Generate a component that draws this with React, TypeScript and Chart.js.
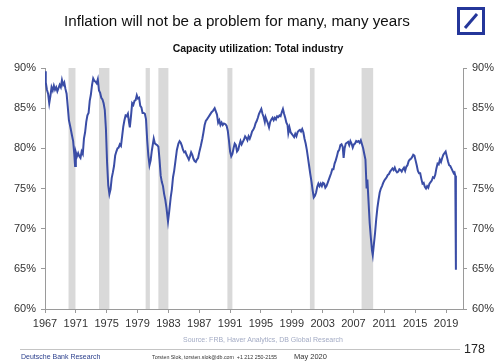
import React, { useEffect, useRef } from "react";
import { Chart, registerables } from "chart.js";

Chart.register(...registerables);

const FONT = '"Liberation Sans", Arial, Helvetica, sans-serif';

// Decimal-year positions and capacity utilization (%)
const dates = [
  1967.0, 1967.1, 1967.25, 1967.4, 1967.55, 1967.7, 1967.85, 1968.0, 1968.15, 1968.3, 1968.45, 1968.6, 1968.75, 1968.9,
  1969.05, 1969.2, 1969.35, 1969.5, 1969.65, 1969.8, 1969.95, 1970.1, 1970.3, 1970.5, 1970.65, 1970.8, 1970.9,
  1971.0, 1971.15, 1971.3, 1971.45, 1971.6, 1971.75, 1971.9, 1972.05, 1972.2, 1972.35, 1972.5, 1972.65, 1972.8, 1972.95,
  1973.1, 1973.25, 1973.4, 1973.55, 1973.7, 1973.85, 1974.0, 1974.15, 1974.3, 1974.45, 1974.6, 1974.75, 1974.9,
  1975.05, 1975.2, 1975.35, 1975.5, 1975.65, 1975.8, 1975.95, 1976.1, 1976.25, 1976.4, 1976.55, 1976.7, 1976.85,
  1977.0, 1977.15, 1977.3, 1977.45, 1977.6, 1977.75, 1977.9, 1978.0, 1978.15, 1978.3, 1978.45, 1978.6, 1978.75, 1978.9,
  1979.05, 1979.2, 1979.35, 1979.5, 1979.65, 1979.8, 1979.95, 1980.1, 1980.25, 1980.4, 1980.55, 1980.7, 1980.85,
  1981.0, 1981.1, 1981.25, 1981.4, 1981.55, 1981.7, 1981.85, 1982.0, 1982.15, 1982.3, 1982.45, 1982.6, 1982.75, 1982.95,
  1983.1, 1983.3, 1983.45, 1983.6, 1983.75, 1983.9, 1984.1, 1984.3, 1984.45, 1984.6, 1984.75, 1984.9,
  1985.05, 1985.2, 1985.35, 1985.5, 1985.65, 1985.8, 1985.95, 1986.1, 1986.25, 1986.4, 1986.55, 1986.7, 1986.85,
  1987.0, 1987.2, 1987.4, 1987.55, 1987.7, 1987.85, 1988.0, 1988.2, 1988.4, 1988.6, 1988.8,
  1989.0, 1989.15, 1989.3, 1989.45, 1989.6, 1989.75, 1989.9, 1990.05, 1990.2, 1990.4, 1990.55, 1990.7, 1990.85,
  1991.0, 1991.15, 1991.3, 1991.45, 1991.6, 1991.75, 1991.9, 1992.05, 1992.2, 1992.35, 1992.5, 1992.65, 1992.8, 1992.95,
  1993.1, 1993.25, 1993.4, 1993.55, 1993.7, 1993.85, 1994.0, 1994.15, 1994.3, 1994.45, 1994.6, 1994.75, 1994.9,
  1995.05, 1995.2, 1995.35, 1995.5, 1995.6, 1995.75, 1995.9, 1996.05, 1996.2, 1996.35, 1996.5, 1996.65, 1996.8, 1996.95,
  1997.1, 1997.25, 1997.4, 1997.55, 1997.7, 1997.85, 1998.0, 1998.15, 1998.3, 1998.45, 1998.55, 1998.7, 1998.85,
  1999.0, 1999.15, 1999.3, 1999.45, 1999.6, 1999.75, 1999.9, 2000.05, 2000.2, 2000.35, 2000.5, 2000.65, 2000.8, 2000.95,
  2001.1, 2001.25, 2001.4, 2001.55, 2001.7, 2001.85, 2002.0, 2002.15, 2002.3, 2002.45, 2002.6, 2002.75, 2002.9,
  2003.05, 2003.2, 2003.35, 2003.5, 2003.65, 2003.8, 2003.95, 2004.1, 2004.25, 2004.4, 2004.55, 2004.7, 2004.85,
  2005.0, 2005.15, 2005.3, 2005.45, 2005.6, 2005.72, 2005.85, 2006.0, 2006.15, 2006.3, 2006.45, 2006.6, 2006.75, 2006.9,
  2007.05, 2007.2, 2007.35, 2007.5, 2007.65, 2007.8, 2007.95, 2008.1, 2008.25, 2008.4, 2008.55, 2008.7, 2008.8, 2008.95,
  2009.1, 2009.25, 2009.4, 2009.5, 2009.65, 2009.8, 2009.95, 2010.1, 2010.25, 2010.4, 2010.55, 2010.7, 2010.85,
  2011.0, 2011.15, 2011.3, 2011.45, 2011.6, 2011.75, 2011.9, 2012.05, 2012.2, 2012.35, 2012.5, 2012.65, 2012.8, 2012.95,
  2013.1, 2013.25, 2013.4, 2013.55, 2013.7, 2013.85, 2014.0, 2014.15, 2014.3, 2014.45, 2014.6, 2014.75, 2014.9,
  2015.05, 2015.2, 2015.35, 2015.5, 2015.65, 2015.8, 2015.95, 2016.1, 2016.25, 2016.4, 2016.55, 2016.7, 2016.85,
  2017.0, 2017.15, 2017.3, 2017.45, 2017.6, 2017.75, 2017.9, 2018.05, 2018.2, 2018.35, 2018.5, 2018.65, 2018.8, 2018.95,
  2019.1, 2019.25, 2019.4, 2019.55, 2019.7, 2019.85, 2020.0, 2020.1, 2020.2, 2020.28,
];

const values = [
  89.6, 88.2, 87.3, 86.8, 85.6, 86.5, 87.6, 87.2, 87.8, 87.3, 87.6, 87.1, 87.5, 87.9,
  87.6, 88.5, 87.9, 88.2, 87.4, 86.8, 85.2, 83.5, 82.6, 81.6, 80.9, 79.2, 77.8,
  79.5, 79.0, 79.4, 79.0, 78.8, 79.6, 79.3, 81.2, 82.0, 83.3, 84.1, 84.4, 85.9, 86.7,
  87.9, 88.7, 88.4, 88.3, 88.1, 88.6, 87.2, 86.9, 86.3, 86.1, 85.6, 84.8, 82.4,
  78.2, 75.4, 74.3, 74.9, 76.3, 77.0, 77.8, 79.1, 79.6, 80.0, 80.1, 80.5, 80.3,
  81.5, 82.7, 83.5, 84.1, 84.0, 84.3, 83.2, 82.6, 84.0, 85.6, 85.4, 85.9, 86.0, 86.6,
  86.2, 86.3, 85.3, 85.1, 84.4, 84.4, 84.3, 83.6, 81.0, 79.1, 77.9, 78.5, 79.7,
  80.6, 81.2, 80.6, 80.5, 80.4, 80.2, 78.6, 76.6, 75.8, 75.3, 74.3, 73.6, 72.6, 70.9,
  72.1, 73.9, 74.9, 76.4, 77.2, 78.3, 79.8, 80.6, 80.9, 80.7, 80.3, 79.8,
  79.5, 79.6, 79.2, 78.9, 78.6, 79.0, 79.5, 79.2, 78.7, 78.4, 78.3, 78.6, 78.8,
  79.5, 80.3, 81.2, 82.0, 82.9, 83.4, 83.6, 83.9, 84.2, 84.5, 84.7,
  85.0, 84.6, 84.2, 83.2, 83.5, 82.9, 83.2, 82.9, 83.1, 83.0, 82.8, 82.2, 81.0,
  79.6, 79.0, 79.3, 80.0, 80.6, 80.4, 79.6, 79.8, 80.4, 80.9, 80.5, 80.8, 81.1, 81.5,
  81.3, 81.0, 81.5, 81.2, 81.6, 82.1, 82.3, 82.6, 83.1, 83.4, 83.8, 84.3, 84.6,
  84.9, 84.3, 83.9, 83.3, 83.9, 83.5, 83.1, 82.6, 83.3, 83.6, 83.8, 83.5, 83.8, 83.6,
  84.0, 83.9, 84.1, 84.0, 84.5, 84.9, 84.3, 83.8, 83.2, 82.9, 81.9, 82.6, 82.0,
  81.8, 81.6, 81.4, 81.8, 81.5, 82.0, 82.2, 82.3, 82.1, 82.4, 82.0, 81.2, 80.6, 79.8,
  78.8, 77.8, 76.8, 75.9, 74.8, 73.9, 74.1, 74.5, 75.2, 75.6, 75.3, 75.6, 75.3,
  75.7, 75.6, 75.1, 75.3, 75.7, 76.1, 76.5, 76.9, 77.4, 77.4, 78.1, 78.5, 79.0,
  79.6, 79.8, 80.4, 80.5, 80.2, 78.8, 80.0, 80.6, 80.7, 80.8, 80.4, 80.9, 80.6, 80.1,
  80.5, 80.6, 80.9, 80.8, 80.9, 80.7, 81.0, 80.5, 80.0, 79.3, 78.6, 75.0, 76.1, 73.4,
  70.7, 68.9, 67.3, 66.7, 68.1, 69.5, 71.2, 72.6, 73.6, 74.5, 75.0, 75.3, 75.7,
  76.0, 76.2, 76.4, 76.7, 76.8, 77.1, 77.3, 77.5, 77.3, 77.6, 77.2, 77.0, 77.1, 77.4,
  77.3, 77.1, 77.4, 77.6, 77.2, 77.7, 77.9, 78.4, 78.6, 78.7, 78.9, 79.2, 79.1,
  78.5, 77.9, 77.2, 76.9, 76.9, 76.2, 75.6, 75.7, 75.2, 75.0, 75.3, 75.1, 75.6,
  75.8, 76.0, 76.4, 76.3, 76.7, 77.5, 78.1, 78.0, 78.6, 78.3, 78.8, 79.2, 79.4, 79.6,
  79.0, 78.4, 77.9, 77.8, 77.5, 77.2, 76.9, 77.0, 76.6, 64.9,
];

// Recession shading (start, end) in decimal years
const recessionStarts = [1970.05, 1974.0, 1980.05, 1981.7, 1990.65, 2001.35, 2008.05];
const recessionEnds = [1970.95, 1975.35, 1980.6, 1983.0, 1991.3, 2001.95, 2009.55];

const xTickYears = [1967, 1971, 1975, 1979, 1983, 1987, 1991, 1995, 1999, 2003, 2007, 2011, 2015, 2019];
const yTicks = [60, 65, 70, 75, 80, 85, 90];

const LINE_COLOR = "#3a4da6";
const AXIS_COLOR = "#9a9a9a";
const TICK_COLOR = "#333333";

const recessionPlugin = {
  id: "recessions",
  beforeDatasetsDraw(chart: any) {
    const { ctx, chartArea, scales } = chart;
    const x = scales.x;
    ctx.save();
    ctx.fillStyle = "#d9d9d9";
    for (let i = 0; i < recessionStarts.length; i++) {
      const x0 = x.getPixelForValue(recessionStarts[i]);
      const x1 = x.getPixelForValue(recessionEnds[i]);
      ctx.fillRect(x0, chartArea.top, x1 - x0, chartArea.bottom - chartArea.top);
    }
    ctx.restore();
  },
};

function yAxis(position: "left" | "right", width: number) {
  return {
    type: "linear" as const,
    position,
    min: 60,
    max: 90,
    afterBuildTicks(axis: any) {
      axis.ticks = yTicks.map((v) => ({ value: v }));
    },
    afterFit(axis: any) {
      axis.width = width;
    },
    ticks: {
      color: TICK_COLOR,
      font: { family: FONT, size: 11 },
      padding: 5,
      callback: (v: any) => `${v}%`,
    },
    grid: { display: true, drawOnChartArea: false, drawTicks: true, tickLength: 4, color: AXIS_COLOR },
    border: { display: true, color: AXIS_COLOR, width: 1 },
  };
}

export default function App() {
  const canvasRef = useRef<HTMLCanvasElement | null>(null);

  useEffect(() => {
    if (!canvasRef.current) return;
    const chart = new Chart(canvasRef.current, {
      type: "line",
      data: {
        datasets: [
          {
            data: dates.map((d, i) => ({ x: d, y: values[i] })),
            borderColor: LINE_COLOR,
            borderWidth: 2,
            pointRadius: 0,
            tension: 0,
            yAxisID: "y",
          },
        ],
      },
      options: {
        animation: false,
        responsive: false,
        devicePixelRatio: 1,
        layout: { padding: { top: 68, bottom: 31, left: 0, right: 0 } },
        plugins: { legend: { display: false }, tooltip: { enabled: false }, title: { display: false } },
        scales: {
          x: {
            type: "linear",
            min: 1967,
            max: 2021.2,
            afterBuildTicks(axis: any) {
              axis.ticks = xTickYears.map((v) => ({ value: v }));
            },
            afterFit(axis: any) {
              axis.height = 24;
            },
            ticks: {
              color: TICK_COLOR,
              font: { family: FONT, size: 11 },
              autoSkip: false,
              maxRotation: 0,
              padding: 4,
              callback: (v: any) => String(v),
            },
            grid: { display: true, drawOnChartArea: false, drawTicks: true, tickLength: 4, color: AXIS_COLOR },
            border: { display: true, color: AXIS_COLOR, width: 1 },
          },
          y: yAxis("left", 45),
          y2: yAxis("right", 37),
        },
      },
      plugins: [recessionPlugin],
    });
    return () => chart.destroy();
  }, []);

  const base: React.CSSProperties = { position: "absolute", fontFamily: FONT, whiteSpace: "nowrap" };

  return (
    <div style={{ position: "absolute", left: 0, top: 0, width: 500, height: 364, background: "#fff", overflow: "hidden" }}>
      <canvas ref={canvasRef} width={500} height={364} style={{ position: "absolute", left: 0, top: 0 }} />
      <div style={{ ...base, left: 0, width: 474, top: 12, textAlign: "center", fontSize: 15.2, lineHeight: "18px", color: "#111" }}>
        Inflation will not be a problem for many, many years
      </div>
      <svg style={{ position: "absolute", left: 457, top: 7 }} width={28} height={28}>
        <rect x={1.5} y={1.5} width={25} height={25} fill="#fff" stroke="#24369a" strokeWidth={3} />
        <line x1={8} y1={21} x2={20} y2={7} stroke="#24369a" strokeWidth={3} />
      </svg>
      <div style={{ ...base, left: 0, width: 516, top: 42, textAlign: "center", fontSize: 10.5, fontWeight: "bold", lineHeight: "12px", color: "#111" }}>
        Capacity utilization: Total industry
      </div>
      <div style={{ ...base, left: 0, width: 526, top: 335, textAlign: "center", fontSize: 7, lineHeight: "10px", color: "#a3abc4" }}>
        Source: FRB, Haver Analytics, DB Global Research
      </div>
      <div style={{ position: "absolute", left: 20, width: 440, top: 349, height: 0, borderTop: "1px solid #c4c4c4" }} />
      <div style={{ ...base, left: 21, top: 352, fontSize: 7, lineHeight: "10px", color: "#2b3f8c" }}>Deutsche Bank Research</div>
      <div style={{ ...base, left: 152, top: 353, fontSize: 5.3, lineHeight: "8px", color: "#333" }}>
        Torsten Slok, torsten.slok@db.com&nbsp;&nbsp;+1 212 250-2155
      </div>
      <div style={{ ...base, left: 294, top: 352, fontSize: 7.5, lineHeight: "10px", color: "#333" }}>May 2020</div>
      <div style={{ ...base, left: 464, top: 342, fontSize: 12.5, lineHeight: "14px", color: "#222" }}>178</div>
    </div>
  );
}
